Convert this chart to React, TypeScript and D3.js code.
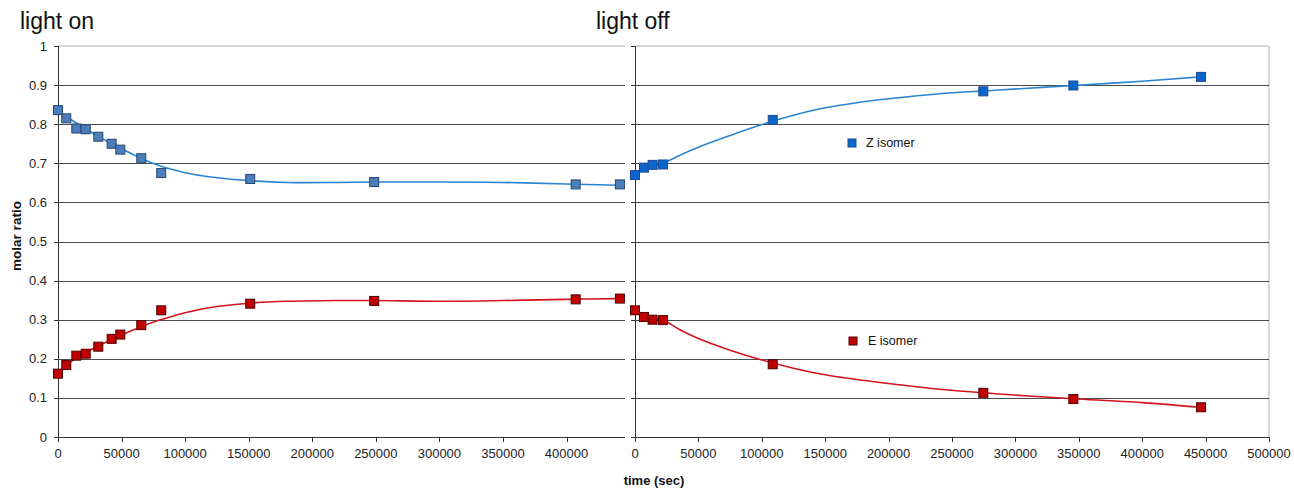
import React from "react";
import * as d3 from "d3";

// ---- data ----
const onTime = [0, 6500, 14400, 21800, 31700, 42200, 49000, 65500, 81200, 151200, 248700, 407200, 442000];
const onZ = [0.836, 0.815, 0.789, 0.787, 0.768, 0.75, 0.735, 0.713, 0.675, 0.66, 0.652, 0.646, 0.646];
const onE = [0.162, 0.184, 0.208, 0.213, 0.231, 0.251, 0.262, 0.286, 0.324, 0.341, 0.348, 0.352, 0.354];

const offTime = [0, 7100, 13900, 22100, 108600, 274700, 345700, 446400];
const offZ = [0.67, 0.689, 0.696, 0.697, 0.811, 0.884, 0.899, 0.921];
const offE = [0.324, 0.307, 0.3, 0.299, 0.186, 0.113, 0.097, 0.076];

// fitted trend curves
const onFitTime = [0, 10000, 20000, 30000, 40000, 50000, 60000, 70000, 80000, 90000, 100000, 120000, 150000, 180000, 220000, 250000, 300000, 350000, 400000, 442000];
const onFitZ = [0.836, 0.812, 0.792, 0.772, 0.754, 0.737, 0.721, 0.706, 0.694, 0.684, 0.676, 0.665, 0.656, 0.651, 0.651, 0.652, 0.652, 0.651, 0.647, 0.644];
const onFitE = [0.162, 0.192, 0.212, 0.23, 0.246, 0.261, 0.275, 0.288, 0.299, 0.309, 0.318, 0.331, 0.342, 0.347, 0.349, 0.349, 0.347, 0.349, 0.352, 0.354];

const offFitTime = [0, 10000, 22000, 35000, 50000, 75000, 100000, 125000, 150000, 175000, 200000, 240000, 275000, 310000, 346000, 400000, 446000];
const offFitZ = [0.67, 0.69, 0.7, 0.72, 0.741, 0.771, 0.799, 0.823, 0.842, 0.855, 0.865, 0.878, 0.885, 0.892, 0.899, 0.91, 0.921];
const offFitE = [0.324, 0.305, 0.299, 0.275, 0.252, 0.222, 0.197, 0.176, 0.159, 0.147, 0.137, 0.122, 0.113, 0.105, 0.098, 0.088, 0.076];

const yTicks = [0, 0.1, 0.2, 0.3, 0.4, 0.5, 0.6, 0.7, 0.8, 0.9, 1];
const onXTicks = [0, 50000, 100000, 150000, 200000, 250000, 300000, 350000, 400000];
const offXTicks = [0, 50000, 100000, 150000, 200000, 250000, 300000, 350000, 400000, 450000, 500000];

const font = "'Liberation Sans', Arial, sans-serif";

export default function App() {
  const y = d3.scaleLinear().domain([0, 1]).range([437, 46]);
  const xOn = d3.scaleLinear().domain([0, 446000]).range([58, 625]);
  const xOff = d3.scaleLinear().domain([0, 500000]).range([635, 1269]);

  const mk = (xs: number[], ys: number[]) => xs.map((t, i) => [t, ys[i]] as [number, number]);
  const lineFor = (x: d3.ScaleLinear<number, number>) =>
    d3.line<[number, number]>().x((d) => x(d[0])).y((d) => y(d[1])).curve(d3.curveCatmullRom.alpha(0.5));

  const blueLine = "#2a84d4";
  const redLine = "#d4141c";
  const ms = 9;

  const markers = (x: d3.ScaleLinear<number, number>, xs: number[], ys: number[], fill: string, stroke: string) =>
    xs.map((t, i) => (
      <rect key={i} x={x(t) - ms / 2} y={y(ys[i]) - ms / 2} width={ms} height={ms} fill={fill} stroke={stroke} strokeWidth={1} />
    ));

  return (
    <svg width={1294} height={489} style={{ position: "absolute", left: 0, top: 0, background: "#fff" }} fontFamily={font}>
      <rect x={0} y={0} width={1294} height={489} fill="#fff" />
      {/* titles */}
      <text x={20} y={29} fontSize={23} fill="#111">light on</text>
      <text x={596} y={29} fontSize={23} fill="#111">light off</text>

      {/* top borders */}
      <line x1={58} x2={625} y1={y(1)} y2={y(1)} stroke="#b0b0b0" />
      <line x1={635} x2={1269} y1={y(1)} y2={y(1)} stroke="#b0b0b0" />
      <line x1={1269} x2={1269} y1={y(1)} y2={y(0)} stroke="#b0b0b0" />

      {/* gridlines */}
      {yTicks.filter((t) => t > 0 && t < 1).map((t) => (
        <g key={t}>
          <line x1={58} x2={625} y1={Math.round(y(t)) + 0.5} y2={Math.round(y(t)) + 0.5} stroke="#4a4a4a" />
          <line x1={635} x2={1269} y1={Math.round(y(t)) + 0.5} y2={Math.round(y(t)) + 0.5} stroke="#4a4a4a" />
        </g>
      ))}

      {/* y axes */}
      <line x1={58.5} x2={58.5} y1={y(1)} y2={y(0)} stroke="#333" />
      <line x1={635.5} x2={635.5} y1={y(1)} y2={y(0)} stroke="#333" />
      {yTicks.map((t) => (
        <g key={t}>
          <line x1={54} x2={58} y1={Math.round(y(t)) + 0.5} y2={Math.round(y(t)) + 0.5} stroke="#333" />
          <line x1={631} x2={635} y1={Math.round(y(t)) + 0.5} y2={Math.round(y(t)) + 0.5} stroke="#333" />
          <text x={47} y={y(t)} dy="0.35em" textAnchor="end" fontSize={13} fill="#222">{String(t)}</text>
        </g>
      ))}

      {/* x axes */}
      <line x1={58} x2={625} y1={437.5} y2={437.5} stroke="#333" />
      <line x1={635} x2={1269} y1={437.5} y2={437.5} stroke="#333" />
      {onXTicks.map((t) => (
        <g key={t}>
          <line x1={Math.round(xOn(t)) + 0.5} x2={Math.round(xOn(t)) + 0.5} y1={437} y2={442} stroke="#333" />
          <text x={xOn(t)} y={458} textAnchor="middle" fontSize={13} fill="#222">{String(t)}</text>
        </g>
      ))}
      {offXTicks.map((t) => (
        <g key={t}>
          <line x1={Math.round(xOff(t)) + 0.5} x2={Math.round(xOff(t)) + 0.5} y1={437} y2={442} stroke="#333" />
          <text x={xOff(t)} y={458} textAnchor="middle" fontSize={13} fill="#222">{String(t)}</text>
        </g>
      ))}

      {/* axis titles */}
      <text transform="translate(21,236) rotate(-90)" textAnchor="middle" fontSize={13.5} fontWeight="bold" fill="#111">molar ratio</text>
      <text x={654} y={485} textAnchor="middle" fontSize={13} fontWeight="bold" fill="#111">time (sec)</text>

      {/* fitted curves */}
      <path d={lineFor(xOn)(mk(onFitTime, onFitZ)) || ""} fill="none" stroke={blueLine} strokeWidth={1.6} />
      <path d={lineFor(xOn)(mk(onFitTime, onFitE)) || ""} fill="none" stroke={redLine} strokeWidth={1.6} />
      <path d={lineFor(xOff)(mk(offFitTime, offFitZ)) || ""} fill="none" stroke={blueLine} strokeWidth={1.6} />
      <path d={lineFor(xOff)(mk(offFitTime, offFitE)) || ""} fill="none" stroke={redLine} strokeWidth={1.6} />

      {/* markers */}
      {markers(xOn, onTime, onZ, "#4a7ebb", "#27466e")}
      {markers(xOn, onTime, onE, "#c00000", "#4d0000")}
      {markers(xOff, offTime, offZ, "#0a66c8", "#1d4a96")}
      {markers(xOff, offTime, offE, "#c00000", "#4d0000")}

      {/* legends */}
      <rect x={848} y={139} width={8} height={8} fill="#0a66c8" stroke="#1d4a96" />
      <text x={866} y={143} dy="0.35em" fontSize={12.5} fill="#111">Z isomer</text>
      <rect x={849} y={337} width={8} height={8} fill="#c00000" stroke="#4d0000" />
      <text x={868} y={341} dy="0.35em" fontSize={12.5} fill="#111">E isomer</text>
    </svg>
  );
}
